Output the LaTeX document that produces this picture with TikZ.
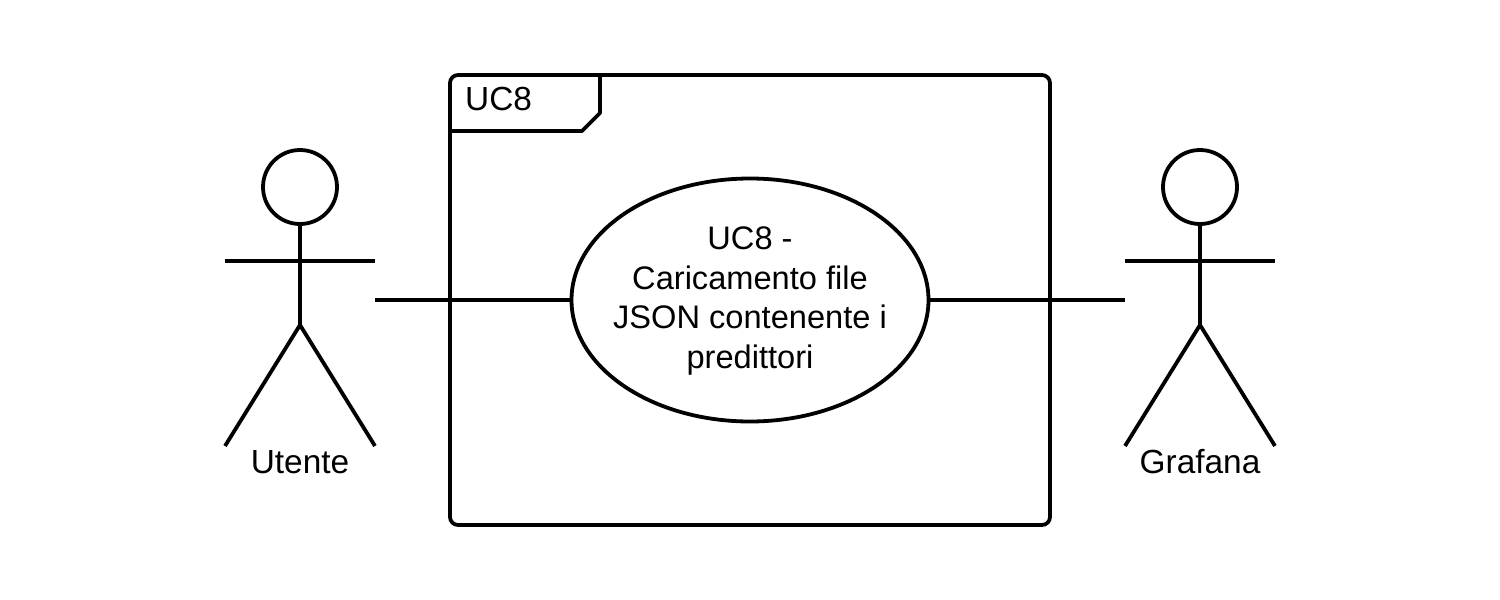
\documentclass[tikz,border=0pt]{standalone}
\usepackage{fontspec}
\setmainfont{Liberation Sans}
\usetikzlibrary{shapes.geometric}
\tikzset{
  ln/.style={line width=3.8pt,black,line join=round},
  txt/.style={font=\fontsize{33.4pt}{39.4pt}\selectfont,inner sep=0pt,align=center,text=black},
  txtc/.style={font=\fontsize{32.6pt}{39.4pt}\selectfont,inner sep=0pt,align=center,text=black},
}
\begin{document}
\begin{tikzpicture}[x=1pt,y=-1pt]
\useasboundingbox (0,0) rectangle (1500,600);
\fill[white] (0,0) rectangle (1500,600);
% frame
\draw[ln,rounded corners=8pt] (450,75) rectangle (1050,525);
\draw[ln] (450,131) -- (582,131) -- (600,113) -- (600,75);
\node[txt,anchor=base west] (uc) at (465,110) {UC8};
% use case
\node[ln,draw,ellipse,minimum width=357pt,minimum height=243pt,inner sep=0pt] (u) at (750,300) {};
\node[txtc] (ut) at (750,301) {UC8 -\\Caricamento file\\JSON contenente i\\predittori};
% actor 1
\coordinate (ar1) at (375,300);
\node[ln,draw,circle,minimum size=74pt,inner sep=0pt] (h1) at (300,187) {};
\coordinate (c1) at (300,325);
\coordinate (al1) at (225,261);
\coordinate (alr1) at (375,261);
\coordinate (fl1) at (225,446);
\coordinate (fr1) at (375,446);
\draw[ln] (h1.south) -- (c1);
\draw[ln] (al1) -- (alr1);
\draw[ln] (fl1) -- (c1) -- (fr1);
\node[txt,anchor=base] (n1) at (300,473) {Utente};
% actor 2
\coordinate (ar2) at (1125,300);
\node[ln,draw,circle,minimum size=74pt,inner sep=0pt] (h2) at (1200,187) {};
\coordinate (c2) at (1200,325);
\coordinate (al2) at (1125,261);
\coordinate (alr2) at (1275,261);
\coordinate (fl2) at (1125,446);
\coordinate (fr2) at (1275,446);
\draw[ln] (h2.south) -- (c2);
\draw[ln] (al2) -- (alr2);
\draw[ln] (fl2) -- (c2) -- (fr2);
\node[txt,anchor=base] (n2) at (1200,473) {Grafana};
% connectors
\draw[ln] (ar1) -- (u.west);
\draw[ln] (u.east) -- (ar2);
\end{tikzpicture}
\end{document}
